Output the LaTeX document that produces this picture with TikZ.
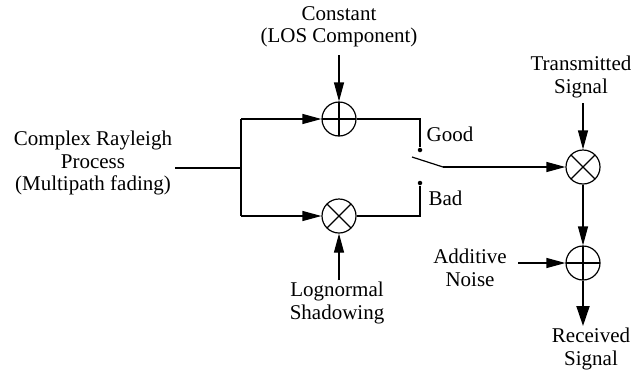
\documentclass[tikz,border=0pt]{standalone}
\usepackage{fontspec}
\setmainfont{Liberation Serif}
\newfontfamily\lblfont{Liberation Serif}
\usetikzlibrary{arrows.meta}
\begin{document}
\begin{tikzpicture}[x=1pt,y=-1pt,
  line width=1.2pt,
  lbl/.style={font=\lblfont\fontsize{21}{22.5}\selectfont, align=center, inner sep=0pt},
  sumnode/.style={circle, draw, minimum size=34pt, inner sep=0pt,
    path picture={\draw (path picture bounding box.north) -- (path picture bounding box.south)
                        (path picture bounding box.west) -- (path picture bounding box.east);}},
  prodnode/.style={circle, draw, minimum size=34pt, inner sep=0pt,
    path picture={\draw (path picture bounding box.north west) ++(5,5) -- ++(24,24)
                        (path picture bounding box.north east) ++(-5,5) -- ++(-24,24);}},
  arr/.style={-{Triangle[length=19pt,width=10pt]}},
  bigarr/.style={line width=2pt,-{Triangle[length=20pt,width=13pt]}},
  contact/.style={circle, fill, inner sep=0pt, minimum size=4.5pt}
]
\useasboundingbox (0,0) rectangle (644,375);

% operators
\node[sumnode]  (add1)  at (339,119) {};
\node[prodnode] (mult1) at (339,216) {};
\node[prodnode] (mult2) at (583,167) {};
\node[sumnode]  (add2)  at (583,263) {};

% labels
\node[lbl] (const)    at (339,27)  {Constant\\(LOS Component)};
\node[lbl] (trans)    at (581,77)  {Transmitted\\Signal};
\node[lbl] (rayleigh) at (93,163)  {Complex Rayleigh\\Process\\(Multipath fading)};
\node[lbl] (logn)     at (337,303) {Lognormal\\Shadowing};
\node[lbl] (noise)    at (470,268) {Additive\\Noise};
\node[lbl] (recv)     at (591,349) {Received\\Signal};
\node[lbl, anchor=west] (good) at (426,134) {Good};
\node[lbl, anchor=west] (bad)  at (428,198) {Bad};

% switch contacts
\node[contact] (cgood) at (420,150) {};
\node[contact] (cbad)  at (420,183) {};

% helper coordinates
\coordinate (inl)   at (175,168);
\coordinate (split) at (241,168);
\coordinate (tl)    at (241,119);
\coordinate (bl)    at (241,216);
\coordinate (tr)    at (420,119);
\coordinate (br)    at (420,216);
\coordinate (blade0) at (412,157);
\coordinate (blade1) at (443,167);
\coordinate (constend) at (339,55);
\coordinate (transend) at (583,103);
\coordinate (lognend)  at (339,280);
\coordinate (noiseend) at (518,263);
\coordinate (recvend)  at (583,326);

% left branching
\draw (inl) -- (split);
\draw (tl) -- (bl);
\draw[arr] (tl) -- (add1);
\draw[arr] (bl) -- (mult1);

% to the switch
\draw (add1) -- (tr) -- (cgood);
\draw (mult1) -- (br) -- (cbad);

% switch blade and output
\draw (blade0) -- (blade1);
\draw[arr] (blade1) -- (mult2);

% side inputs
\draw[arr] (constend) -- (add1);
\draw[arr] (lognend) -- (mult1);
\draw[arr] (transend) -- (mult2);
\draw[arr] (mult2) -- (add2);
\draw[arr] (noiseend) -- (add2);
\draw[bigarr] (add2) -- (recvend);
\end{tikzpicture}
\end{document}
